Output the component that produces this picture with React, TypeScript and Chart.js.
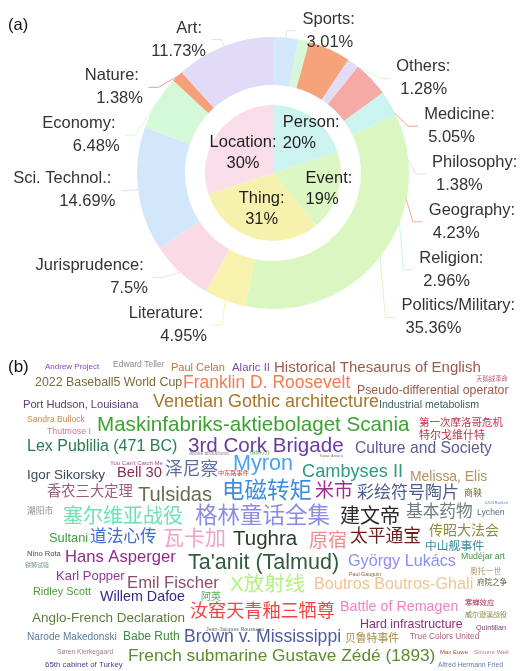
import React, { useEffect, useRef } from "react";
import { Chart, registerables } from "chart.js";

Chart.register(...registerables);

const FONT = '"Liberation Sans", Arial, Helvetica, "Noto Sans CJK SC", sans-serif';

// ---------- (a) nested donut data ----------
const domainLabels = [
  "Sports", "Others", "Medicine", "Philosophy", "Geography", "Religion",
  "Politics/Military", "Literature", "Jurisprudence", "Sci. Technol.",
  "Economy", "Nature", "Art",
];
const domainValues = [3.01, 1.28, 5.05, 1.38, 4.23, 2.96, 35.36, 4.95, 7.5, 14.69, 6.48, 1.38, 11.73];
const domainColors = [
  "#d3e8fb", "#d6f8d8", "#f6a27a", "#e3dcf6", "#f5aaa5", "#cbf3ef",
  "#daf7c2", "#f7f3ae", "#fadbe5", "#d3e7fb", "#d4f9d8", "#f5a07a", "#e1dbf7",
];

const typeLabels = ["Person", "Event", "Thing", "Location"];
const typeValues = [20, 19, 31, 30];
const typeColors = ["#cdf3f1", "#dcf6c4", "#f6f2ae", "#f9dde8"];
// small nudges for the inner-pie label blocks (label layout only)
const typeLabelAlign = ["left", "left", "center", "center"];
const typeLabelNudgeX = [-12, -3, -1, 0];
const typeLabelNudgeY = [-10, 6, 0, 2];

// ---------- (b) word cloud data ----------
const wordTexts = [
  "Andrew Project", "Edward Teller", "Paul Celan", "Alaric II", "Historical Thesaurus of English",
  "天鹅绒革命", "2022 Baseball5 World Cup", "Franklin D. Roosevelt", "Pseudo-differential operator",
  "Port Hudson, Louisiana", "Venetian Gothic architecture", "Industrial metabolism",
  "Sandra Bullock", "Thutmose I", "Maskinfabriks-aktiebolaget Scania", "第一次摩洛哥危机", "特尔戈维什特",
  "Lex Publilia (471 BC)", "3rd Cork Brigade", "Culture and Society", "Aboke abductions", "《树叶刀》",
  "Tupac Amaru", "You Can't Catch Me", "Myron", "中东路事件", "Igor Sikorsky", "Bell 30", "泽尼察",
  "Cambyses II", "Melissa, Elis", "香农三大定理", "Tulsidas", "电磁转矩", "米市", "彩绘符号陶片", "商鞅",
  "IUCN Red List", "潮阳市", "塞尔维亚战役", "格林童话全集", "建文帝", "基本药物", "Lychen",
  "Sultani", "道法心传", "瓦卡加", "Tughra", "原宿", "太平通宝", "传昭大法会", "中山舰事件",
  "Nino Rota", "Hans Asperger", "Ta'anit (Talmud)", "铁狮试验", "György Lukács", "Mudéjar art",
  "奥托一世", "Paul Gauguin", "Karl Popper", "Emil Fischer", "X放射线", "Boutros Boutros-Ghali", "府院之争",
  "Ridley Scott", "Willem Dafoe", "阿英", "汝窑天青釉三牺尊", "Battle of Remagen", "寒蝉效应", "威尔逊溪战役",
  "Anglo-French Declaration", "Hard infrastructure", "Quintilian", "Jean-Jacques Rousseau",
  "Narode Makedonski", "Babe Ruth", "Brown v. Mississippi", "贝鲁特事件", "True Colors United",
  "Søren Kierkegaard", "French submarine Gustave Zédé (1893)", "Max Euwe", "Simone Weil",
  "65th cabinet of Turkey", "Alfred Hermann Fried",
];
const wordX = [
  45, 113, 171, 232, 274,
  476, 35, 183, 357,
  23, 153, 379,
  27, 47, 97, 419, 419,
  27, 188, 355, 189, 247,
  319, 110, 233, 218, 27, 117, 165,
  302, 410, 47, 138, 222, 315, 357, 464,
  485, 27, 63, 195, 340, 406, 477,
  49, 90, 163, 233, 309, 350, 429, 425,
  27, 65, 188, 25, 348, 461,
  470, 349, 56, 127, 230, 314, 477,
  33, 100, 201, 190, 340, 465, 465,
  32, 360, 476, 206,
  27, 123, 184, 345, 410,
  57, 128, 440, 474,
  45, 438,
];
const wordY = [
  367, 365, 368, 368, 368,
  379, 383, 383, 391,
  405, 402, 405,
  420, 432, 425, 423, 436,
  447, 446, 449, 454, 453,
  456, 463, 464, 473, 475, 473, 470,
  472, 477, 492, 495, 492, 492, 493, 494,
  503, 512, 517, 517, 517, 512, 513,
  538, 537, 539, 539, 542, 537, 531, 547,
  554, 557, 563, 565, 562, 557,
  572, 575, 576, 583, 585, 585, 583,
  592, 597, 597, 612, 607, 603, 615,
  618, 625, 628, 630,
  637, 637, 637, 639, 637,
  652, 656, 652, 652,
  665, 665,
];
const wordSize = [
  8, 8.5, 11, 11.4, 15,
  6.4, 12.4, 17.5, 12.3,
  11.1, 18, 10.6,
  8.6, 8.8, 20.6, 10.5, 11,
  16, 20.6, 15.7, 5, 5,
  4, 6, 21.6, 6.2, 13.5, 14.7, 17.7,
  18.2, 13.9, 14.3, 20.1, 22.5, 19, 17, 9,
  3.6, 8.7, 20, 22.5, 20, 16.7, 8.7,
  12.8, 16.7, 21, 20.5, 19, 17.8, 14, 11.8,
  7.6, 16.6, 21.5, 6, 16.2, 8.7,
  7.8, 5.3, 13, 16.7, 20.5, 16.2, 7.5,
  10.9, 14.3, 10, 18.1, 14.3, 7.3, 7,
  13.5, 12.4, 7.2, 5.3,
  10.1, 12, 17.6, 10.8, 8.3,
  6.7, 17.3, 6, 6.2,
  7.9, 6.8,
];
const wordColors = [
  "#8c45c4", "#8a8a8a", "#b27b3e", "#7d4aa5", "#9b5a4e",
  "#c8668a", "#7b6a3e", "#f47c4e", "#9b5a4e",
  "#5c3a6e", "#a8762c", "#3d5e5e",
  "#c48c50", "#c27c8c", "#3ca232", "#c4304c", "#c4304c",
  "#2a7c4e", "#6a3aa2", "#5c5c92", "#888888", "#4a9a5a",
  "#9a6a6a", "#a44a9c", "#4aa2f2", "#c44444", "#3a4a5a", "#8c2c4c", "#5c6ca2",
  "#2c9c7c", "#b29262", "#9c5c7c", "#6a6a52", "#3c8ce2", "#9c2c8c", "#4c5c8c", "#6a6a2c",
  "#4a7ac4", "#8a8a8a", "#6ce2b2", "#8c8ce2", "#2a2a2a", "#6c7c7c", "#5c6c8c",
  "#3c9c3c", "#3c6cd2", "#f2a2c2", "#2c3c2c", "#f28c8c", "#6c1c1c", "#8c8c3c", "#3c8c9c",
  "#4c4c4c", "#8c2c8c", "#2c5c3c", "#6a9a8a", "#8c8cf2", "#3c9c3c",
  "#b29262", "#8c5c3c", "#8c3c9c", "#8c4c6c", "#b2f282", "#f2c292", "#5c5c3c",
  "#4c9c3c", "#2c2c8c", "#5cac5c", "#f24444", "#f282c2", "#a42c4c", "#8c8c3c",
  "#5c7c3c", "#8c2c7c", "#6c3c6c", "#6a6a6a",
  "#5c7c9c", "#3c8c3c", "#4c5c9c", "#a28c3c", "#b25c7c",
  "#a27c8c", "#5c8c2c", "#a44c3c", "#b27c7c",
  "#4c3c8c", "#5c7cac",
];

// ---------- label layout helpers for the donut ----------
const LEN1 = 7;
const LEN2 = 10;
const DIST = 5;
const GAP = 47.8;

type Item = {
  i: number; cx: number; cy: number; r: number; rA: number; dir: number;
  edgeX: number; edgeY: number; x1: number; y: number; labelX: number;
};

function layoutOuter(chart: any): Item[] {
  const meta = chart.getDatasetMeta(0);
  const items: Item[] = meta.data.map((arc: any, i: number) => {
    const p = arc.getProps(["x", "y", "startAngle", "endAngle", "outerRadius"], true);
    const mid = (p.startAngle + p.endAngle) / 2;
    const c = Math.cos(mid);
    const s = Math.sin(mid);
    const r = p.outerRadius;
    const rA = r + LEN1;
    const dir = c >= 0 ? 1 : -1;
    const x1 = p.x + rA * c;
    return {
      i, cx: p.x, cy: p.y, r, rA, dir,
      edgeX: p.x + r * c, edgeY: p.y + r * s,
      x1, y: p.y + rA * s, labelX: x1 + dir * (LEN2 + DIST),
    };
  });
  for (const dir of [1, -1]) {
    const side = items.filter((it) => it.dir === dir).sort((a, b) => a.y - b.y);
    if (!side.length) continue;
    let moved = false;
    for (let k = 1; k < side.length; k++) {
      if (side[k].y < side[k - 1].y + GAP) {
        side[k].y = side[k - 1].y + GAP;
        moved = true;
      }
    }
    if (!moved) continue;
    const cx = side[0].cx;
    const cy = side[0].cy;
    for (const top of [true, false]) {
      const semi = side.filter((it) => (top ? it.y <= cy : it.y > cy));
      if (!semi.length) continue;
      let ext = semi[0];
      for (const it of semi) if (Math.abs(it.y - cy) >= Math.abs(ext.y - cy)) ext = it;
      const dyE = Math.abs(ext.y - cy);
      const dxE = Math.abs(ext.x1 - cx);
      const rB = dxE < ext.rA ? Math.sqrt((dyE * dyE) / (1 - (dxE * dxE) / (ext.rA * ext.rA))) : ext.rA;
      for (const it of semi) {
        const dy = Math.abs(it.y - cy);
        const dx = Math.sqrt(Math.max(0, 1 - (dy * dy) / (rB * rB))) * it.rA;
        it.labelX = cx + dir * (dx + LEN2 + DIST);
      }
    }
  }
  return items;
}

const donutPlugin = {
  id: "donutLabels",
  beforeDatasetsDraw(chart: any) {
    const ctx = chart.ctx;
    const items = layoutOuter(chart);
    ctx.save();
    ctx.lineWidth = 1;
    for (const it of items) {
      const elbowX = it.labelX - it.dir * (LEN2 + DIST);
      const endX = it.labelX - it.dir * DIST;
      ctx.strokeStyle = domainColors[it.i];
      ctx.beginPath();
      ctx.moveTo(it.edgeX, it.edgeY);
      ctx.lineTo(elbowX, it.y);
      ctx.lineTo(endX, it.y);
      ctx.stroke();
    }
    ctx.restore();
  },
  afterDatasetsDraw(chart: any) {
    const ctx = chart.ctx;
    const items = layoutOuter(chart);
    ctx.save();
    ctx.font = `16.5px ${FONT}`;
    ctx.fillStyle = "#333333";
    ctx.textBaseline = "middle";
    for (const it of items) {
      const l1 = `${domainLabels[it.i]}:`;
      const l2 = `${domainValues[it.i]}%`;
      if (it.dir > 0) {
        ctx.textAlign = "left";
        ctx.fillText(l1, it.labelX + 1, it.y - 11.5);
        ctx.fillText(l2, it.labelX + 5, it.y + 11.5);
      } else {
        ctx.textAlign = "right";
        ctx.fillText(l1, it.labelX - 4.5, it.y - 11.5);
        ctx.fillText(l2, it.labelX - 0.5, it.y + 11.5);
      }
    }
    // inner pie labels
    const meta = chart.getDatasetMeta(2);
    ctx.fillStyle = "#1e1e1e";
    meta.data.forEach((arc: any, i: number) => {
      const p = arc.getProps(["x", "y", "startAngle", "endAngle", "outerRadius"], true);
      const mid = (p.startAngle + p.endAngle) / 2;
      const rr = p.outerRadius * 0.545;
      const ax = p.x + rr * Math.cos(mid) + typeLabelNudgeX[i];
      const ay = p.y + rr * Math.sin(mid) + typeLabelNudgeY[i];
      ctx.textAlign = typeLabelAlign[i];
      ctx.fillText(`${typeLabels[i]}:`, ax, ay - 10.5);
      ctx.fillText(`${typeValues[i]}%`, ax, ay + 10.5);
    });
    ctx.textAlign = "left";
    ctx.fillStyle = "#111111";
    ctx.font = `16.5px ${FONT}`;
    ctx.fillText("(a)", 8, 25);
    ctx.restore();
  },
};

const cloudPlugin = {
  id: "cloudWords",
  afterDatasetsDraw(chart: any) {
    const ctx = chart.ctx;
    const meta = chart.getDatasetMeta(0);
    ctx.save();
    ctx.textAlign = "left";
    ctx.textBaseline = "middle";
    meta.data.forEach((pt: any, i: number) => {
      ctx.font = `${wordSize[i]}px ${FONT}`;
      ctx.fillStyle = wordColors[i];
      ctx.fillText(wordTexts[i], pt.x, pt.y);
    });
    ctx.fillStyle = "#111111";
    ctx.font = `17px ${FONT}`;
    ctx.fillText("(b)", 8, 22);
    ctx.restore();
  },
};

export default function App() {
  const donutRef = useRef<HTMLCanvasElement>(null);
  const cloudRef = useRef<HTMLCanvasElement>(null);

  useEffect(() => {
    const arcOpts = { borderWidth: 0, hoverBorderWidth: 0, offset: 0, hoverOffset: 0 };
    const donut = new Chart(donutRef.current as HTMLCanvasElement, {
      type: "doughnut",
      data: {
        labels: domainLabels,
        datasets: [
          { data: domainValues, backgroundColor: domainColors, weight: 48, ...arcOpts } as any,
          { data: [1], backgroundColor: ["rgba(0,0,0,0)"], weight: 20, ...arcOpts } as any,
          { data: typeValues, backgroundColor: typeColors, weight: 68, ...arcOpts } as any,
        ],
      },
      options: {
        responsive: false,
        animation: false,
        devicePixelRatio: 1,
        events: [],
        cutout: 0,
        layout: { padding: { left: 137, right: 115, top: 37, bottom: 37 } },
        elements: { arc: { borderWidth: 0 } },
        plugins: { legend: { display: false }, tooltip: { enabled: false } },
      } as any,
      plugins: [donutPlugin],
    });

    const cloud = new Chart(cloudRef.current as HTMLCanvasElement, {
      type: "scatter",
      data: {
        datasets: [
          {
            data: wordTexts.map((_, i) => ({ x: wordX[i], y: wordY[i] })),
            pointRadius: 0,
            pointHoverRadius: 0,
          },
        ],
      },
      options: {
        responsive: false,
        animation: false,
        devicePixelRatio: 1,
        events: [],
        layout: { padding: 0 },
        scales: {
          x: { type: "linear", min: 0, max: 524, display: false },
          y: { type: "linear", min: 345, max: 671, reverse: true, display: false },
        },
        plugins: { legend: { display: false }, tooltip: { enabled: false } },
      } as any,
      plugins: [cloudPlugin],
    });

    return () => {
      donut.destroy();
      cloud.destroy();
    };
  }, []);

  return (
    <div style={{ position: "absolute", left: 0, top: 0, width: 524, height: 671, background: "#ffffff" }}>
      <canvas
        ref={donutRef}
        width={524}
        height={346}
        style={{ position: "absolute", left: 0, top: 0, width: 524, height: 346 }}
      />
      <canvas
        ref={cloudRef}
        width={524}
        height={326}
        style={{ position: "absolute", left: 0, top: 345, width: 524, height: 326 }}
      />
    </div>
  );
}
